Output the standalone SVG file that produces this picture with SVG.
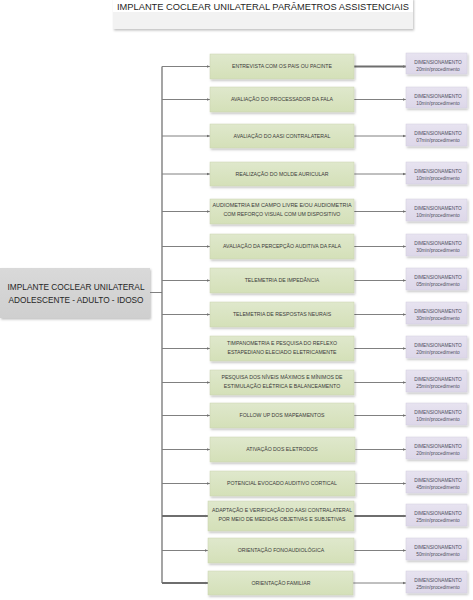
<svg xmlns="http://www.w3.org/2000/svg" width="473" height="600" viewBox="0 0 473 600">
<style>
.g{fill:url(#gg);stroke:#c9d3b0;stroke-width:0.5;filter:url(#sh)}
.p{fill:url(#pg);stroke:#d3cde0;stroke-width:0.5;filter:url(#sh)}
.gt{font-family:"Liberation Sans",Arial,sans-serif;font-size:5.2px;fill:#3a3a3a;text-anchor:middle}
.pt{font-family:"Liberation Sans",Arial,sans-serif;font-size:4.8px;fill:#4f4f5f;text-anchor:middle}
.c{stroke:#808080;stroke-width:1;fill:none}
.ca{stroke:#808080;stroke-width:1;fill:none;marker-end:url(#ah)}
.cb{stroke:#6e6e6e;stroke-width:1.8;fill:none;marker-end:url(#ah)}
</style>
<defs>
<linearGradient id="gg" x1="0" y1="0" x2="0" y2="1"><stop offset="0" stop-color="#dfe8cc"/><stop offset="1" stop-color="#d4e0b8"/></linearGradient>
<linearGradient id="pg" x1="0" y1="0" x2="0" y2="1"><stop offset="0" stop-color="#e7e3f0"/><stop offset="1" stop-color="#ddd7e9"/></linearGradient>
<linearGradient id="lg" x1="0" y1="0" x2="0" y2="1"><stop offset="0" stop-color="#d9d9d9"/><stop offset="1" stop-color="#cfcfcf"/></linearGradient>
<filter id="sh" x="-10%" y="-20%" width="130%" height="160%"><feDropShadow dx="1" dy="1.5" stdDeviation="0.8" flood-color="#000" flood-opacity="0.25"/></filter>
<marker id="ah" markerWidth="4" markerHeight="4" refX="3.5" refY="2" orient="auto" markerUnits="userSpaceOnUse"><path d="M0,0.4 L3.5,2 L0,3.6 Z" fill="#707070"/></marker>
</defs>
<rect width="473" height="600" fill="#ffffff"/>
<g id="title">
<rect x="113" y="-2" width="300" height="31" fill="#f2f2f2" filter="url(#sh)"/>
<rect x="113" y="-2" width="300" height="14" fill="#ffffff"/>
<text x="263" y="10" font-family="Liberation Sans,Arial,sans-serif" font-size="9.8" fill="#1f1f1f" text-anchor="middle" textLength="292" lengthAdjust="spacingAndGlyphs">IMPLANTE COCLEAR UNILATERAL PARÂMETROS ASSISTENCIAIS</text>
</g>
<g id="root">
<rect x="0" y="268" width="150" height="50" fill="url(#lg)" filter="url(#sh)"/>
<text x="76" y="290" font-family="Liberation Sans,Arial,sans-serif" font-size="9.6" fill="#262626" text-anchor="middle" textLength="137" lengthAdjust="spacingAndGlyphs">IMPLANTE COCLEAR UNILATERAL</text>
<text x="76" y="302.5" font-family="Liberation Sans,Arial,sans-serif" font-size="9.6" fill="#262626" text-anchor="middle" textLength="135" lengthAdjust="spacingAndGlyphs">ADOLESCENTE - ADULTO - IDOSO</text>
</g>
<g id="connectors">
<path class="c" d="M150,292.5 H162"/>
<path d="M162,66.5 V583" stroke="#747474" stroke-width="1.3" fill="none"/>
<path class="ca" d="M162,66.5 H210"/>
<path class="ca" d="M162,99.5 H210"/>
<path class="ca" d="M162,136 H210"/>
<path class="ca" d="M162,174 H210"/>
<path class="ca" d="M162,211.5 H210"/>
<path class="ca" d="M162,246.5 H210"/>
<path class="ca" d="M162,280.5 H210"/>
<path class="ca" d="M162,314.5 H210"/>
<path class="ca" d="M162,348.5 H210"/>
<path class="ca" d="M162,382.5 H210"/>
<path class="ca" d="M162,415.5 H210"/>
<path class="ca" d="M162,449.5 H210"/>
<path class="ca" d="M162,483.5 H210"/>
<path class="cb" d="M162,516 H208"/>
<path class="ca" d="M162,550.5 H208"/>
<path class="cb" d="M162,583 H208" stroke="#404040" stroke-width="1.4"/>
<path class="cb" d="M354,66.5 H406"/>
<path class="ca" d="M354,99.5 H406"/>
<path class="ca" d="M354,136 H406"/>
<path class="ca" d="M354,174 H406"/>
<path class="ca" d="M354,211.5 H406"/>
<path class="ca" d="M354,246.5 H406"/>
<path class="ca" d="M354,280.5 H406"/>
<path class="ca" d="M354,314.5 H406"/>
<path class="ca" d="M354,348.5 H406"/>
<path class="ca" d="M354,382.5 H406"/>
<path class="ca" d="M354,415.5 H406"/>
<path class="ca" d="M355,449.5 H406"/>
<path class="ca" d="M355,483.5 H406"/>
<path class="cb" d="M354,516 H406"/>
<path class="ca" d="M354,550.5 H406"/>
<path class="ca" d="M353,583 H406"/>
</g>
<g id="n1"><rect class="g" x="210" y="54" width="144" height="25"/><text class="gt" x="282" y="68.3">ENTREVISTA COM OS PAIS OU PACINTE</text></g>
<g id="n2"><rect class="g" x="210" y="87" width="144" height="25"/><text class="gt" x="282" y="101.3">AVALIAÇÃO DO PROCESSADOR DA FALA</text></g>
<g id="n3"><rect class="g" x="210" y="124" width="144" height="24"/><text class="gt" x="282" y="137.8">AVALIAÇÃO DO AASI CONTRALATERAL</text></g>
<g id="n4"><rect class="g" x="210" y="162" width="144" height="24"/><text class="gt" x="282" y="175.8">REALIZAÇÃO DO MOLDE AURICULAR</text></g>
<g id="n5"><rect class="g" x="210" y="199" width="144" height="25"/><text class="gt" x="282" y="207" textLength="139" lengthAdjust="spacingAndGlyphs">AUDIOMETRIA EM CAMPO LIVRE E/OU AUDIOMETRIA</text><text class="gt" x="282" y="215.5">COM REFORÇO VISUAL COM UM DISPOSITIVO</text></g>
<g id="n6"><rect class="g" x="210" y="234" width="144" height="25"/><text class="gt" x="282" y="248.3">AVALIAÇÃO DA PERCEPÇÃO AUDITIVA DA FALA</text></g>
<g id="n7"><rect class="g" x="210" y="268" width="144" height="25"/><text class="gt" x="282" y="282.3">TELEMETRIA DE IMPEDÂNCIA</text></g>
<g id="n8"><rect class="g" x="210" y="302" width="144" height="25"/><text class="gt" x="282" y="316.3">TELEMETRIA DE RESPOSTAS NEURAIS</text></g>
<g id="n9"><rect class="g" x="210" y="336" width="144" height="25"/><text class="gt" x="282" y="344.8">TIMPANOMETRIA E PESQUISA DO REFLEXO</text><text class="gt" x="282" y="353.8">ESTAPEDIANO ELECIADO ELETRICAMENTE</text></g>
<g id="n10"><rect class="g" x="210" y="370" width="144" height="25"/><text class="gt" x="282" y="378.8">PESQUISA DOS NÍVEIS MÁXIMOS E MÍNIMOS DE</text><text class="gt" x="282" y="387.8">ESTIMULAÇÃO ELÉTRICA E BALANCEAMENTO</text></g>
<g id="n11"><rect class="g" x="210" y="403" width="144" height="25"/><text class="gt" x="282" y="417.3">FOLLOW UP DOS MAPEAMENTOS</text></g>
<g id="n12"><rect class="g" x="210" y="437" width="145" height="25"/><text class="gt" x="282" y="451.3">ATIVAÇÃO DOS ELETRODOS</text></g>
<g id="n13"><rect class="g" x="210" y="471" width="145" height="25"/><text class="gt" x="282" y="485.3">POTENCIAL EVOCADO AUDITIVO CORTICAL</text></g>
<g id="n14"><rect class="g" x="208" y="501" width="146" height="30"/><text class="gt" x="282" y="511.5" textLength="140" lengthAdjust="spacingAndGlyphs">ADAPTAÇÃO E VERIFICAÇÃO DO AASI CONTRALATERAL</text><text class="gt" x="282" y="520.5">POR MEIO DE MEDIDAS OBJETIVAS E SUBJETIVAS</text></g>
<g id="n15"><rect class="g" x="208" y="538" width="146" height="25"/><text class="gt" x="281" y="552.3">ORIENTAÇÃO FONOAUDIOLÓGICA</text></g>
<g id="n16"><rect class="g" x="208" y="571" width="145" height="24"/><text class="gt" x="281" y="584.8">ORIENTAÇÃO FAMILIAR</text></g>
<g id="d1"><rect class="p" x="406" y="53" width="61" height="21"/><text class="pt" x="438" y="63.5">DIMENSIONAMENTO</text><text class="pt" x="438" y="70.5">20min/procedimento</text></g>
<g id="d2"><rect class="p" x="406" y="87" width="61" height="21"/><text class="pt" x="438" y="97.5">DIMENSIONAMENTO</text><text class="pt" x="438" y="104.5">10min/procedimento</text></g>
<g id="d3"><rect class="p" x="406" y="124" width="61" height="22"/><text class="pt" x="438" y="134.5">DIMENSIONAMENTO</text><text class="pt" x="438" y="141.5">07min/procedimento</text></g>
<g id="d4"><rect class="p" x="406" y="162" width="61" height="22"/><text class="pt" x="438" y="172.5">DIMENSIONAMENTO</text><text class="pt" x="438" y="179.5">10min/procedimento</text></g>
<g id="d5"><rect class="p" x="406" y="199" width="61" height="22"/><text class="pt" x="438" y="209.5">DIMENSIONAMENTO</text><text class="pt" x="438" y="216.5">10min/procedimento</text></g>
<g id="d6"><rect class="p" x="406" y="234" width="61" height="22"/><text class="pt" x="438" y="244.5">DIMENSIONAMENTO</text><text class="pt" x="438" y="251.5">30min/procedimento</text></g>
<g id="d7"><rect class="p" x="406" y="268" width="61" height="22"/><text class="pt" x="438" y="278.5">DIMENSIONAMENTO</text><text class="pt" x="438" y="285.5">05min/procedimento</text></g>
<g id="d8"><rect class="p" x="406" y="302" width="61" height="22"/><text class="pt" x="438" y="312.5">DIMENSIONAMENTO</text><text class="pt" x="438" y="319.5">30min/procedimento</text></g>
<g id="d9"><rect class="p" x="406" y="336" width="61" height="22"/><text class="pt" x="438" y="346.5">DIMENSIONAMENTO</text><text class="pt" x="438" y="353.5">20min/procedimento</text></g>
<g id="d10"><rect class="p" x="406" y="370" width="61" height="22"/><text class="pt" x="438" y="380.5">DIMENSIONAMENTO</text><text class="pt" x="438" y="387.5">25min/procedimento</text></g>
<g id="d11"><rect class="p" x="406" y="403" width="61" height="22"/><text class="pt" x="438" y="413.5">DIMENSIONAMENTO</text><text class="pt" x="438" y="420.5">10min/procedimento</text></g>
<g id="d12"><rect class="p" x="406" y="437" width="61" height="22"/><text class="pt" x="438" y="447.5">DIMENSIONAMENTO</text><text class="pt" x="438" y="454.5">20min/procedimento</text></g>
<g id="d13"><rect class="p" x="406" y="471" width="61" height="22"/><text class="pt" x="438" y="481.5">DIMENSIONAMENTO</text><text class="pt" x="438" y="488.5">45min/procedimento</text></g>
<g id="d14"><rect class="p" x="406" y="504" width="61" height="22"/><text class="pt" x="438" y="514.5">DIMENSIONAMENTO</text><text class="pt" x="438" y="521.5">25min/procedimento</text></g>
<g id="d15"><rect class="p" x="406" y="538" width="61" height="22"/><text class="pt" x="438" y="548.5">DIMENSIONAMENTO</text><text class="pt" x="438" y="555.5">50min/procedimento</text></g>
<g id="d16"><rect class="p" x="406" y="571" width="61" height="22"/><text class="pt" x="438" y="581.5">DIMENSIONAMENTO</text><text class="pt" x="438" y="588.5">25min/procedimento</text></g>
</svg>
